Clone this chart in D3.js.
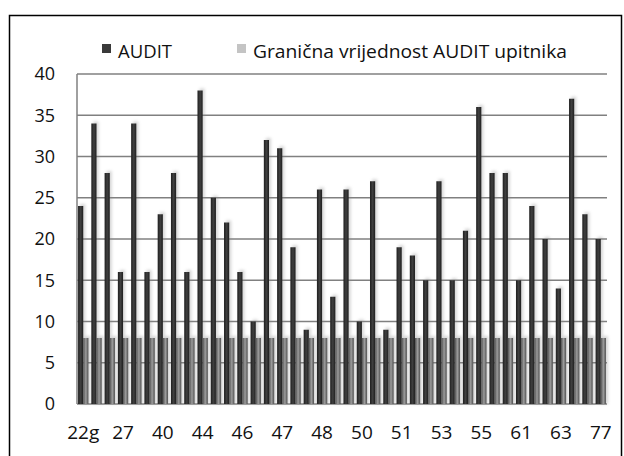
<!DOCTYPE html>
<html>
<head>
<meta charset="utf-8">
<script src="https://cdn.jsdelivr.net/npm/d3@7"></script>
<style>
  html, body { margin: 0; padding: 0; background: #fff; }
  svg { display: block; }
  text { font-family: "Open Sans", "DejaVu Sans", sans-serif; fill: #111; }
</style>
</head>
<body>
<svg id="chart" width="624" height="456"></svg>
<script>
// ---- data ----
const auditValues = [24,34,28,16,34,16,23,28,16,38,25,22,16,10,32,31,19,9,26,13,
                     26,10,27,9,19,18,15,27,15,21,36,28,28,15,24,20,14,37,23,20];
const thresholdValues = auditValues.map(() => 8);
const tickLabels = ["22g","27","40","44","46","47","48","50","51","53","55","61","63","77"];
const yTicks = [0,5,10,15,20,25,30,35,40];
const seriesNames = ["AUDIT", "Granična vrijednost AUDIT upitnika"];

// ---- layout ----
const svg = d3.select("#chart");
const plot = { left: 77, right: 607, top: 74, bottom: 404 };

const idx = d3.range(auditValues.length);
const x = d3.scaleBand().domain(idx).range([plot.left, plot.right]).paddingInner(0.22).paddingOuter(0.08);
const xs = d3.scaleBand().domain([0,1]).range([0, x.bandwidth()]).padding(0);
const y = d3.scaleLinear().domain([0, 40]).range([plot.bottom, plot.top]);

// defs: gradients and shadow
const defs = svg.append("defs");
const gDark = defs.append("linearGradient").attr("id","gDark").attr("x1","0").attr("x2","1").attr("y1","0").attr("y2","0");
gDark.append("stop").attr("offset","0").attr("stop-color","#1e1e1e");
gDark.append("stop").attr("offset","0.5").attr("stop-color","#404040");
gDark.append("stop").attr("offset","1").attr("stop-color","#1e1e1e");
const gGray = defs.append("linearGradient").attr("id","gGray").attr("x1","0").attr("x2","1").attr("y1","0").attr("y2","0");
gGray.append("stop").attr("offset","0").attr("stop-color","#505050");
gGray.append("stop").attr("offset","0.5").attr("stop-color","#9c9c9c");
gGray.append("stop").attr("offset","1").attr("stop-color","#505050");
const blur = defs.append("filter").attr("id","soft").attr("x","-50%").attr("y","-10%").attr("width","200%").attr("height","120%");
blur.append("feGaussianBlur").attr("stdDeviation", 1.5);

// outer frame
svg.append("rect").attr("x", 9.5).attr("y", 15.5).attr("width", 612).attr("height", 470)
  .attr("fill", "#fff").attr("stroke", "#000").attr("stroke-width", 1.5);

// gridlines
svg.append("g").selectAll("line").data(yTicks).join("line")
  .attr("x1", plot.left).attr("x2", plot.right)
  .attr("y1", d => y(d)).attr("y2", d => y(d))
  .attr("stroke", "#808080").attr("stroke-width", 1.5);
svg.append("line").attr("x1", plot.left).attr("x2", plot.left)
  .attr("y1", plot.top).attr("y2", plot.bottom)
  .attr("stroke", "#808080").attr("stroke-width", 1.5);

// y axis labels
const yAxis = d3.axisLeft(y).tickValues(yTicks).tickSize(0).tickPadding(0);
const yg = svg.append("g").attr("transform", "translate(55,0)").call(yAxis);
yg.select(".domain").remove();
yg.selectAll("text").attr("font-size", 18).attr("fill", "#111")
  .style("font-family", '"Open Sans", sans-serif');

// shadows
const shadows = svg.append("g").attr("filter", "url(#soft)").attr("opacity", 0.35);
shadows.selectAll("rect.sa").data(idx).join("rect")
  .attr("x", i => x(i) + xs(0) + 2).attr("y", i => y(auditValues[i]) - 2)
  .attr("width", xs.bandwidth()).attr("height", i => plot.bottom - y(auditValues[i]) + 2)
  .attr("fill", "#888");
shadows.selectAll("rect.sb").data(idx).join("rect")
  .attr("x", i => x(i) + xs(1) + 2).attr("y", i => y(thresholdValues[i]) - 2)
  .attr("width", xs.bandwidth()).attr("height", i => plot.bottom - y(thresholdValues[i]) + 2)
  .attr("fill", "#888");

// bars
svg.append("g").selectAll("rect").data(idx).join("rect")
  .attr("x", i => x(i) + xs(0)).attr("y", i => y(auditValues[i]))
  .attr("width", xs.bandwidth()).attr("height", i => plot.bottom - y(auditValues[i]))
  .attr("fill", "url(#gDark)");
svg.append("g").selectAll("rect").data(idx).join("rect")
  .attr("x", i => x(i) + xs(1)).attr("y", i => y(thresholdValues[i]))
  .attr("width", xs.bandwidth()).attr("height", i => plot.bottom - y(thresholdValues[i]))
  .attr("fill", "url(#gGray)");

// x axis labels: every 3rd category
const labelled = idx.filter(i => i % 3 === 0);
const xAxis = d3.axisBottom(x).tickValues(labelled)
  .tickFormat(i => tickLabels[i / 3]).tickSize(0).tickPadding(0);
const xg = svg.append("g").attr("transform", "translate(0,425)").call(xAxis);
xg.select(".domain").remove();
xg.selectAll("text").attr("font-size", 19).attr("fill", "#111").attr("dy", "0.71em")
  .style("font-family", '"Open Sans", sans-serif');

// legend
const legend = [
  { name: seriesNames[0], color: "#3a3a3a", sx: 102, tx: 118, w: 54 },
  { name: seriesNames[1], color: "#c4c4c4", sx: 237, tx: 253, w: 314 }
];
const lg = svg.append("g");
lg.selectAll("rect").data(legend).join("rect")
  .attr("x", d => d.sx).attr("y", 44).attr("width", 9).attr("height", 9).attr("fill", d => d.color);
lg.selectAll("text").data(legend).join("text")
  .attr("x", d => d.tx).attr("y", 58).attr("font-size", 18)
  .attr("textLength", d => d.w).attr("lengthAdjust", "spacingAndGlyphs")
  .text(d => d.name);
</script>
</body>
</html>
